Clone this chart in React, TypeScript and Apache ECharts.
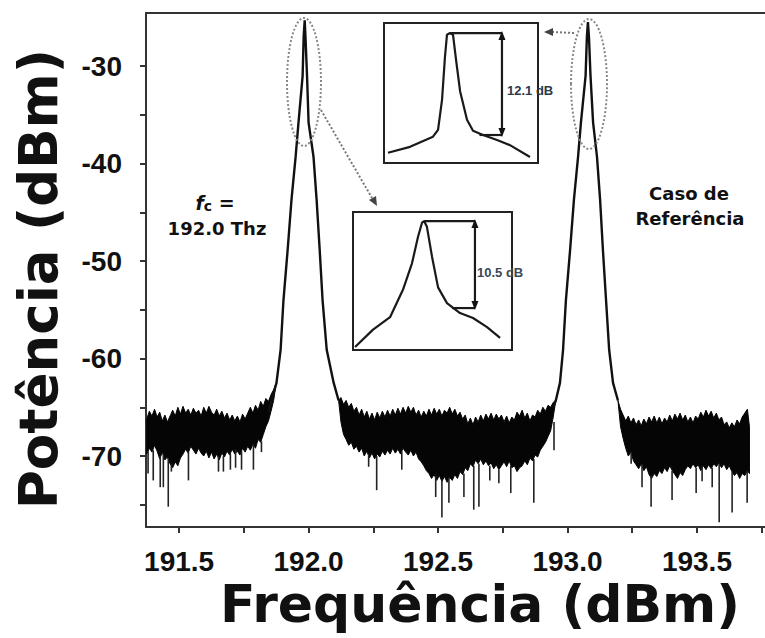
import React, { useEffect, useRef } from "react";
import * as echarts from "echarts";

// ---- axis ticks / labels ----
const xTickValues = [191.5, 191.75, 192.0, 192.25, 192.5, 192.75, 193.0, 193.25, 193.5, 193.75];
const xLabelValues = [191.5, 192.0, 192.5, 193.0, 193.5];
const yTickValues = [-75, -70, -65, -60, -55, -50, -45, -40, -35, -30];
const yLabelValues = [-70, -60, -50, -40, -30];

// ---- noise floor bands: [frequency THz, upper dBm, lower dBm] ----
const noiseLeft = [
  [191.375, -66.2, -69.8], [191.385, -65.4, -69.2], [191.395, -65.9, -69.6], [191.405, -65.2, -68.9],
  [191.415, -66.0, -69.5], [191.425, -65.5, -70.3], [191.435, -66.4, -69.6], [191.445, -65.8, -70.4],
  [191.455, -66.5, -70.1], [191.465, -65.9, -70.8], [191.475, -65.3, -71.2], [191.485, -65.9, -70.6],
  [191.495, -65.0, -71.0], [191.505, -65.7, -70.2], [191.515, -64.9, -69.8], [191.525, -65.6, -69.3],
  [191.535, -65.2, -69.7], [191.545, -65.8, -69.0], [191.555, -65.1, -69.4], [191.565, -65.6, -69.8],
  [191.575, -65.3, -69.2], [191.585, -65.9, -69.7], [191.595, -65.0, -70.0], [191.605, -65.6, -69.5],
  [191.615, -64.9, -70.2], [191.625, -65.5, -69.6], [191.635, -65.8, -70.3], [191.645, -65.2, -69.8],
  [191.655, -65.9, -70.4], [191.665, -65.4, -69.7], [191.675, -66.1, -70.1], [191.685, -65.6, -69.5],
  [191.695, -66.3, -69.9], [191.705, -65.8, -69.3], [191.715, -66.4, -69.8], [191.725, -65.9, -69.5],
  [191.735, -66.5, -69.9], [191.745, -65.7, -69.2], [191.755, -66.2, -69.6], [191.765, -65.6, -69.0],
  [191.775, -65.0, -69.4], [191.785, -65.6, -68.8], [191.795, -64.8, -69.2], [191.805, -65.3, -68.3],
  [191.815, -64.4, -68.6], [191.825, -64.9, -67.8], [191.835, -64.1, -67.0], [191.845, -64.4, -66.4],
  [191.855, -63.7, -65.4], [191.865, -63.2, -64.3], [191.875, -62.5, -62.5],
];

const noiseMiddle = [
  [192.116, -64.3, -64.3], [192.125, -64.0, -66.5], [192.135, -64.7, -67.8], [192.145, -64.3, -68.3],
  [192.155, -65.0, -68.9], [192.165, -64.6, -68.6], [192.175, -65.4, -69.3], [192.185, -65.0, -69.0],
  [192.195, -65.8, -69.6], [192.205, -65.2, -69.2], [192.215, -66.0, -70.0], [192.225, -65.4, -69.5],
  [192.235, -66.2, -70.2], [192.245, -65.6, -69.7], [192.255, -66.3, -70.3], [192.265, -65.5, -69.8],
  [192.275, -66.1, -70.1], [192.285, -65.4, -69.5], [192.295, -66.0, -69.9], [192.305, -65.3, -69.4],
  [192.315, -65.9, -69.8], [192.325, -65.2, -69.2], [192.335, -65.8, -69.7], [192.345, -65.1, -69.3],
  [192.355, -65.7, -69.8], [192.365, -65.0, -69.2], [192.375, -65.6, -69.6], [192.385, -64.9, -69.9],
  [192.395, -65.5, -69.4], [192.405, -65.0, -70.0], [192.415, -65.8, -69.6], [192.425, -65.3, -70.3],
  [192.435, -66.0, -70.6], [192.445, -65.4, -71.0], [192.455, -65.9, -71.5], [192.465, -65.2, -71.8],
  [192.475, -65.8, -72.3], [192.485, -65.1, -71.9], [192.495, -65.7, -72.5], [192.505, -65.2, -72.0],
  [192.515, -65.9, -72.6], [192.525, -65.3, -72.1], [192.535, -65.6, -72.7], [192.545, -65.0, -72.2],
  [192.555, -65.7, -72.5], [192.565, -65.2, -71.9], [192.575, -65.9, -72.3], [192.585, -65.5, -71.6],
  [192.595, -66.2, -71.9], [192.605, -65.8, -71.2], [192.615, -66.7, -71.5], [192.625, -66.1, -70.8],
  [192.635, -66.8, -71.1], [192.645, -66.0, -70.4], [192.655, -66.5, -70.8], [192.665, -65.8, -70.3],
  [192.675, -66.4, -70.9], [192.685, -65.7, -70.5], [192.695, -66.2, -71.0], [192.705, -65.6, -70.7],
  [192.715, -66.3, -71.3], [192.725, -65.7, -70.9], [192.735, -66.2, -71.4], [192.745, -65.8, -71.0],
  [192.755, -66.5, -70.6], [192.765, -65.9, -71.1], [192.775, -66.6, -70.5], [192.785, -66.0, -71.2],
  [192.795, -66.3, -71.0], [192.805, -65.5, -71.6], [192.815, -65.9, -71.2], [192.825, -65.3, -71.0],
  [192.835, -66.1, -70.5], [192.845, -65.6, -70.9], [192.855, -66.4, -70.2], [192.865, -65.8, -70.5],
  [192.875, -66.0, -69.9], [192.885, -65.3, -70.1], [192.895, -65.7, -69.4], [192.905, -65.0, -69.0],
  [192.915, -65.4, -68.6], [192.925, -64.8, -68.0], [192.935, -65.0, -67.4], [192.945, -64.5, -66.0],
  [192.955, -64.3, -64.3],
];

const noiseRight = [
  [193.195, -64.3, -64.3], [193.205, -65.2, -67.0], [193.215, -65.8, -68.2], [193.225, -66.4, -69.2],
  [193.235, -65.9, -70.0], [193.245, -66.6, -69.6], [193.255, -66.1, -70.5], [193.265, -66.8, -70.9],
  [193.275, -66.3, -71.3], [193.285, -66.9, -70.8], [193.295, -66.2, -71.5], [193.305, -66.7, -71.1],
  [193.315, -66.0, -71.9], [193.325, -66.5, -72.3], [193.335, -65.9, -71.8], [193.345, -66.6, -72.1],
  [193.355, -66.0, -71.5], [193.365, -66.7, -71.8], [193.375, -66.1, -71.2], [193.385, -66.5, -71.6],
  [193.395, -65.8, -71.0], [193.405, -66.4, -71.5], [193.415, -65.7, -71.9], [193.425, -66.2, -72.3],
  [193.435, -65.6, -71.7], [193.445, -66.3, -72.0], [193.455, -65.8, -71.4], [193.465, -66.5, -71.0],
  [193.475, -66.0, -71.3], [193.485, -66.6, -70.8], [193.495, -65.9, -71.2], [193.505, -66.2, -70.9],
  [193.515, -65.5, -71.5], [193.525, -66.0, -71.0], [193.535, -65.3, -71.4], [193.545, -65.9, -70.9],
  [193.555, -65.4, -71.3], [193.565, -66.1, -70.8], [193.575, -65.6, -71.1], [193.585, -66.3, -70.7],
  [193.595, -66.0, -71.2], [193.605, -66.8, -70.8], [193.615, -66.5, -71.4], [193.625, -67.1, -71.0],
  [193.635, -66.6, -71.6], [193.645, -67.0, -72.0], [193.655, -66.3, -71.7], [193.665, -66.7, -72.3],
  [193.675, -66.0, -71.8], [193.685, -65.6, -72.0], [193.695, -65.2, -71.5], [193.703, -67.0, -71.8],
];

// ---- deep downward noise spikes: [frequency, from dBm, to dBm] ----
const noiseSpikes = [
  [191.380, -69.5, -71.8], [191.400, -69.4, -72.5], [191.427, -70.0, -73.2], [191.439, -69.8, -73.2],
  [191.458, -70.2, -75.2], [191.470, -70.8, -71.6], [191.536, -69.6, -72.5], [191.652, -70.0, -71.6],
  [191.671, -70.0, -71.6], [191.698, -69.8, -71.4], [191.718, -69.3, -71.2], [191.741, -69.5, -71.4],
  [191.787, -68.8, -71.4], [191.818, -68.5, -69.6],
  [192.232, -69.8, -71.1], [192.263, -70.0, -73.5], [192.360, -69.5, -71.4], [192.491, -72.0, -74.2],
  [192.515, -72.5, -76.3], [192.542, -72.2, -74.8], [192.600, -71.8, -74.2], [192.638, -71.0, -75.5],
  [192.658, -70.8, -75.2], [192.700, -71.0, -72.5], [192.735, -71.4, -72.8], [192.781, -71.0, -73.8],
  [192.870, -70.3, -74.8], [192.948, -66.5, -69.4],
  [193.246, -69.6, -70.8], [193.288, -70.8, -73.2], [193.323, -72.0, -75.2], [193.404, -71.5, -74.5],
  [193.497, -71.2, -73.8], [193.520, -71.0, -72.6], [193.559, -71.2, -73.2], [193.586, -70.8, -76.8],
  [193.636, -71.6, -75.8], [193.694, -71.5, -74.8],
];

// ---- the two carrier peaks: [frequency THz, dBm] ----
const peakCarrier1 = [
  [191.845, -65.5], [191.857, -64.3], [191.876, -62.5], [191.892, -59.1], [191.903, -54.0],
  [191.919, -48.9], [191.934, -43.7], [191.950, -39.3], [191.961, -35.8], [191.977, -31.0],
  [191.981, -27.0], [191.985, -25.3], [191.988, -27.0], [191.994, -31.0], [192.000, -35.8],
  [192.019, -39.3], [192.031, -43.7], [192.043, -48.9], [192.054, -54.0], [192.070, -59.1],
  [192.097, -62.5], [192.116, -64.3],
];
const peakCarrier2 = [
  [192.945, -65.0], [192.955, -64.3], [192.971, -62.5], [192.983, -59.1], [192.994, -54.0],
  [193.010, -48.9], [193.025, -43.7], [193.041, -39.3], [193.052, -35.8], [193.070, -31.0],
  [193.075, -27.0], [193.079, -25.5], [193.083, -27.0], [193.089, -31.0], [193.099, -35.8],
  [193.114, -39.3], [193.126, -43.7], [193.137, -48.9], [193.149, -54.0], [193.161, -59.1],
  [193.176, -62.5], [193.195, -64.3],
];

// ---- zoom insets: [relative offset 0..100, relative dB] ----
const insetTop = [
  [2.6, -14.2], [16.9, -13.5], [31.8, -12.3], [35.1, -11.5], [37.7, -7.9], [39.6, -2.8],
  [40.9, -0.2], [42.9, 0], [44.8, -0.2], [46.8, -3.2], [49.4, -6.9], [53.9, -10.3],
  [57.8, -11.6], [64.3, -12.1], [73.4, -12.7], [81.8, -13.3], [94.8, -14.7],
];
const insetTopDrop = 12.1;
const insetTopMarks = { peakX: 42.9, floorX: 62, arrowX: 76.6 };

const insetBottom = [
  [1.3, -15.2], [12.6, -13.1], [23.3, -11.6], [31.4, -8.3], [37.1, -5.1], [40.9, -1.9],
  [43.4, -0.2], [44.7, 0], [46.5, -0.7], [49.7, -4.3], [53.5, -8.0], [59.1, -9.9],
  [67.3, -11.1], [75.5, -11.7], [84.3, -12.8], [92.5, -14.1],
];
const insetBottomDrop = 10.5;
const insetBottomMarks = { peakX: 44.7, floorX: 62.3, arrowX: 76.7 };

const LIB = "'Liberation Sans', Arial, Helvetica, sans-serif";
const DJV = "'DejaVu Sans', 'Liberation Sans', Arial, sans-serif";

function bandSeries(band: number[][]) {
  return {
    type: "custom",
    xAxisIndex: 0,
    yAxisIndex: 0,
    silent: true,
    clip: true,
    encode: { x: 0, y: [1, 2] },
    data: [band[0]],
    renderItem: (_p: any, api: any) => {
      const top = band.map((r) => api.coord([r[0], r[1]]));
      const bottom = band
        .slice()
        .reverse()
        .map((r) => api.coord([r[0], r[2]]));
      return {
        type: "polygon",
        shape: { points: top.concat(bottom) },
        style: { fill: "#050505", stroke: "#050505", lineWidth: 1 },
      };
    },
  };
}

function insetSeries(
  trace: number[][],
  drop: number,
  marks: { peakX: number; floorX: number; arrowX: number },
  xi: number,
  yi: number
) {
  const common = { xAxisIndex: xi, yAxisIndex: yi, silent: true, z: 6 };
  return [
    {
      ...common,
      type: "line",
      data: trace,
      showSymbol: false,
      lineStyle: { color: "#1a1a1a", width: 2.2 },
    },
    {
      ...common,
      type: "line",
      data: [
        [marks.peakX, 0],
        [marks.arrowX, 0],
      ],
      showSymbol: false,
      lineStyle: { color: "#1a1a1a", width: 2.2 },
    },
    {
      ...common,
      type: "line",
      data: [
        [marks.floorX, -drop],
        [marks.arrowX, -drop],
      ],
      showSymbol: false,
      lineStyle: { color: "#1a1a1a", width: 2.2 },
    },
    {
      ...common,
      type: "line",
      data: [
        { value: [marks.arrowX, -0.3], symbolRotate: 0 },
        { value: [marks.arrowX, -drop + 0.3], symbolRotate: 180 },
      ],
      symbol: "triangle",
      symbolSize: [7, 9],
      showSymbol: true,
      itemStyle: { color: "#111" },
      lineStyle: { color: "#1a1a1a", width: 2.2 },
    },
  ];
}

export default function App() {
  const ref = useRef<HTMLDivElement>(null);

  useEffect(() => {
    if (!ref.current) return;
    const chart = echarts.init(ref.current, undefined, { renderer: "svg" });

    const axisLineStyle = { color: "#333", width: 2 };

    const option: any = {
      animation: false,
      backgroundColor: "#ffffff",
      grid: [
        { left: 146, top: 13, right: 0, bottom: 111, show: false },
        {
          left: 384, top: 23, width: 154, height: 140, show: true,
          borderColor: "#222", borderWidth: 2, backgroundColor: "#fff",
        },
        {
          left: 353, top: 212, width: 159, height: 138, show: true,
          borderColor: "#222", borderWidth: 2, backgroundColor: "#fff",
        },
      ],
      xAxis: [
        {
          type: "value", gridIndex: 0, min: 191.372, max: 193.763, position: "bottom",
          axisLine: { show: true, onZero: false, lineStyle: axisLineStyle },
          axisTick: { show: true, inside: false, length: 6, customValues: xTickValues, lineStyle: axisLineStyle },
          axisLabel: {
            customValues: xLabelValues,
            formatter: (v: number) => v.toFixed(1),
            fontFamily: LIB, fontWeight: "bold", fontSize: 28, color: "#111", margin: 20,
          },
          splitLine: { show: false },
        },
        {
          type: "value", gridIndex: 0, min: 191.372, max: 193.763, position: "top",
          axisLine: { show: true, onZero: false, lineStyle: axisLineStyle },
          axisTick: { show: false }, axisLabel: { show: false }, splitLine: { show: false },
        },
        { type: "value", gridIndex: 1, min: 0, max: 100, show: false },
        { type: "value", gridIndex: 2, min: 0, max: 100, show: false },
      ],
      yAxis: [
        {
          type: "value", gridIndex: 0, min: -77.28, max: -24.56,
          axisLine: { show: true, onZero: false, lineStyle: axisLineStyle },
          axisTick: { show: true, inside: false, length: 6, customValues: yTickValues, lineStyle: axisLineStyle },
          axisLabel: {
            customValues: yLabelValues,
            fontFamily: LIB, fontWeight: "bold", fontSize: 28, color: "#111", margin: 24,
          },
          splitLine: { show: false },
        },
        { type: "value", gridIndex: 1, min: -15.42, max: 1.19, show: false },
        { type: "value", gridIndex: 2, min: -15.56, max: 1.09, show: false },
      ],
      series: [
        bandSeries(noiseLeft),
        bandSeries(noiseMiddle),
        bandSeries(noiseRight),
        {
          type: "custom",
          xAxisIndex: 0, yAxisIndex: 0, silent: true, clip: true,
          encode: { x: 0, y: [1, 2] },
          data: noiseSpikes,
          renderItem: (_p: any, api: any) => {
            const a = api.coord([api.value(0), api.value(1)]);
            const b = api.coord([api.value(0), api.value(2)]);
            return {
              type: "line",
              shape: { x1: a[0], y1: a[1], x2: b[0], y2: b[1] },
              style: { stroke: "#222", lineWidth: 1.6 },
            };
          },
        },
        {
          type: "line", xAxisIndex: 0, yAxisIndex: 0, data: peakCarrier1, showSymbol: false, silent: true,
          lineStyle: { color: "#111", width: 2.4 },
        },
        {
          type: "line", xAxisIndex: 0, yAxisIndex: 0, data: peakCarrier2, showSymbol: false, silent: true,
          lineStyle: { color: "#111", width: 2.4 },
        },
        ...insetSeries(insetTop, insetTopDrop, insetTopMarks, 2, 1),
        ...insetSeries(insetBottom, insetBottomDrop, insetBottomMarks, 3, 2),
      ],
      graphic: [
        // dotted outlines around the peaks
        {
          type: "ellipse", z: 20, silent: true,
          shape: { cx: 304, cy: 82, rx: 17, ry: 64 },
          style: { fill: "none", stroke: "#888", lineWidth: 2, lineDash: [2, 2] },
        },
        {
          type: "ellipse", z: 20, silent: true,
          shape: { cx: 589, cy: 84, rx: 18, ry: 65 },
          style: { fill: "none", stroke: "#888", lineWidth: 2, lineDash: [2, 2] },
        },
        // dotted pointer arrows
        {
          type: "line", z: 20, silent: true,
          shape: { x1: 321, y1: 110, x2: 372, y2: 198 },
          style: { stroke: "#777", lineWidth: 2, lineDash: [2, 2] },
        },
        {
          type: "polygon", z: 20, silent: true,
          shape: { points: [[377, 206], [369, 200], [376, 196]] },
          style: { fill: "#444" },
        },
        {
          type: "line", z: 20, silent: true,
          shape: { x1: 574, y1: 33, x2: 552, y2: 32 },
          style: { stroke: "#777", lineWidth: 2, lineDash: [2, 2] },
        },
        {
          type: "polygon", z: 20, silent: true,
          shape: { points: [[544, 32], [553, 28], [553, 36]] },
          style: { fill: "#444" },
        },
        // inset labels
        {
          type: "text", z: 30, x: 507, y: 90, silent: true,
          style: { text: "12.1 dB", fontFamily: LIB, fontSize: 13, fontWeight: "bold", fill: "#2c3a4a", align: "left", verticalAlign: "middle" },
        },
        {
          type: "text", z: 30, x: 477, y: 272, silent: true,
          style: { text: "10.5 dB", fontFamily: LIB, fontSize: 13, fontWeight: "bold", fill: "#3a4858", align: "left", verticalAlign: "middle" },
        },
        // annotations
        {
          type: "text", z: 30, x: 215, y: 203, silent: true,
          style: {
            text: "{f|f}{c|c}{e| =}",
            align: "center", verticalAlign: "middle",
            rich: {
              f: { fontFamily: DJV, fontSize: 19, fontWeight: "bold", fontStyle: "italic", fill: "#111" },
              c: { fontFamily: DJV, fontSize: 14, fontWeight: "bold", fill: "#111", padding: [6, 0, 0, 0] },
              e: { fontFamily: DJV, fontSize: 19, fontWeight: "bold", fill: "#111" },
            },
          },
        },
        {
          type: "text", z: 30, x: 217, y: 228, silent: true,
          style: { text: "192.0 Thz", fontFamily: DJV, fontSize: 18, fontWeight: "bold", fill: "#111", align: "center", verticalAlign: "middle" },
        },
        {
          type: "text", z: 30, x: 689, y: 193, silent: true,
          style: { text: "Caso de", fontFamily: DJV, fontSize: 18, fontWeight: "bold", fill: "#111", align: "center", verticalAlign: "middle" },
        },
        {
          type: "text", z: 30, x: 690, y: 218, silent: true,
          style: { text: "Referência", fontFamily: DJV, fontSize: 18, fontWeight: "bold", fill: "#111", align: "center", verticalAlign: "middle" },
        },
        // axis titles
        {
          type: "text", z: 30, x: 480, y: 604, silent: true,
          style: { text: "Frequência (dBm)", fontFamily: DJV, fontSize: 52, fontWeight: "bold", fill: "#111", align: "center", verticalAlign: "middle" },
        },
        {
          type: "text", z: 30, x: 38, y: 279, rotation: Math.PI / 2, silent: true,
          style: { text: "Potência (dBm)", fontFamily: DJV, fontSize: 53, fontWeight: "bold", fill: "#111", align: "center", verticalAlign: "middle" },
        },
      ],
    };

    chart.setOption(option);
    return () => chart.dispose();
  }, []);

  return (
    <div
      ref={ref}
      style={{ position: "fixed", left: 0, top: 0, width: 765, height: 638, background: "#fff" }}
    />
  );
}
